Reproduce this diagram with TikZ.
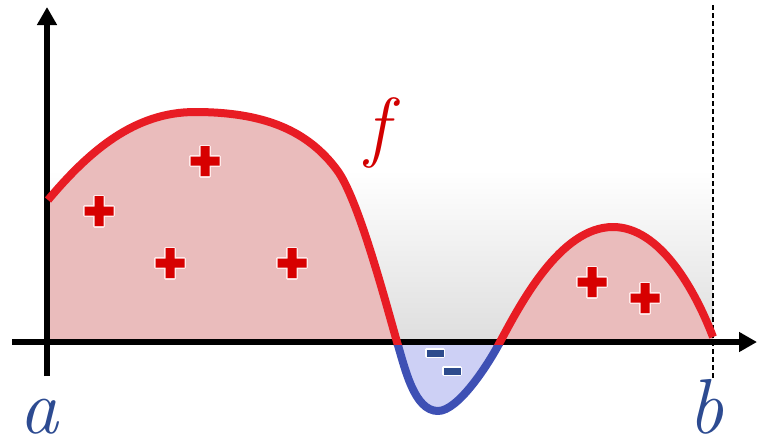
\documentclass[tikz,border=0pt]{standalone}
\usepackage{fontspec}
\usetikzlibrary{arrows.meta}
\definecolor{curvered}{RGB}{232,28,36}
\definecolor{fillpink}{RGB}{234,188,188}
\definecolor{plusred}{RGB}{215,0,0}
\definecolor{curveblue}{RGB}{62,80,180}
\definecolor{fillblue}{RGB}{205,208,245}
\definecolor{minusblue}{RGB}{45,75,140}
\definecolor{labelblue}{RGB}{45,75,145}
\definecolor{fred}{RGB}{210,0,0}
\tikzset{
  plussign/.pic={\fill[plusred, preaction={draw=white!92!red, line width=3pt}]
    (-14.5,-4.5) -- (-4.5,-4.5) -- (-4.5,-15) -- (4.5,-15) -- (4.5,-4.5) -- (14.5,-4.5)
    -- (14.5,4.5) -- (4.5,4.5) -- (4.5,15) -- (-4.5,15) -- (-4.5,4.5) -- (-14.5,4.5) -- cycle;},
  minussign/.pic={\fill[minusblue, preaction={draw=white, line width=3pt}] (-8.5,-3.5) rectangle (8.5,3.5);},
  fcurve/.style={insert path={-- (48,200) .. controls (90,150) and (135,112) .. (195,112)
    .. controls (265,112) and (308,131) .. (337,170)
    .. controls (358,198) and (385,300) .. (397,342)
    .. controls (405,368) and (414,411) .. (438,411)
    .. controls (458,411) and (488,365) .. (500,342)
    .. controls (520,305) and (560,227) .. (613,227)
    .. controls (660,227) and (695,290) .. (713,337)}},
  lbl/.style={font=\fontsize{78}{78}\selectfont\itshape, anchor=base, inner sep=0pt}
}
\begin{document}
\begin{tikzpicture}[x=1pt, y=-1pt, line join=round, >={Triangle[length=18pt,width=19pt]}]
			\useasboundingbox (0,0) rectangle (757,445);
			\coordinate (O) at (47,342);
			\coordinate (S) at (48,200);
			\coordinate (A) at (47,376);
			\coordinate (Y) at (47,7);
			\coordinate (X0) at (12,342);
			\coordinate (X) at (757,342);
			\coordinate (B) at (713,342);
			\coordinate (Bt) at (713,5);
			\coordinate (Bb) at (713,378);
			\shade[top color=white, bottom color=black!13] (47,170) rectangle (713,342);
			% area above and below the axis
			\begin{scope}
				\clip (0,0) rectangle (757,342);
				\fill[fillpink] (O) [fcurve] -- (B) -- cycle;
			\end{scope}
			\begin{scope}
				\clip (0,342) rectangle (757,445);
				\fill[fillblue] (O) [fcurve] -- (B) -- cycle;
			\end{scope}
			\draw[->, line width=6pt] (X0) -- (X);
			\draw[->, line width=6pt] (A) -- (Y);
			\draw[dashed, line width=1.5pt, dash pattern=on 5pt off 3pt] (Bt) -- (Bb);
			% the graph of f
			\begin{scope}
				\clip (0,0) rectangle (757,345);
				\draw[curvered, line width=8pt] (S) [fcurve];
			\end{scope}
			\begin{scope}
				\clip (0,345) rectangle (757,445);
				\draw[curveblue, line width=8pt] (S) [fcurve];
			\end{scope}
			\foreach \p in {(99,211), (205,161), (170,263), (292,263), (592,282), (645,298)} {
				\pic at \p {plussign};
			}
			\foreach \p in {(435,353), (452,371)} {
				\pic at \p {minussign};
			}
			\node[lbl, labelblue] (la) at (39,433) {a};
			\node[lbl, labelblue] (lb) at (706,433) {b};
			\node[lbl, fred] (lf) at (377,152) {f};
		\end{tikzpicture}
\end{document}
